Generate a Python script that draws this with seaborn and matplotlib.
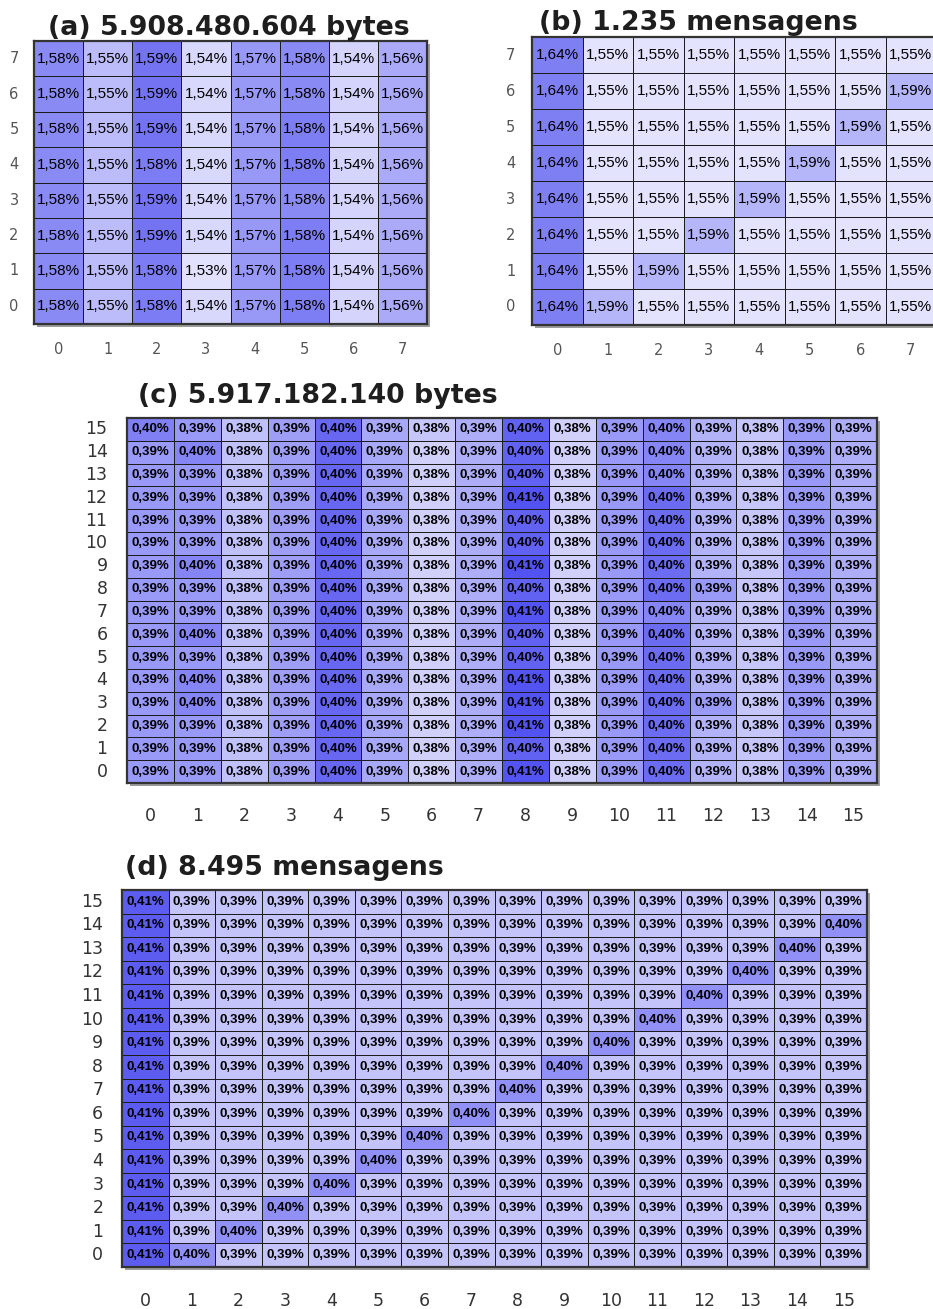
import numpy as np
import pandas as pd
import matplotlib
matplotlib.use("Agg")
import matplotlib.pyplot as plt
import seaborn as sns
from matplotlib.colors import LinearSegmentedColormap
from matplotlib.patches import Rectangle
from matplotlib import font_manager as fm

sns.set_style("white")
plt.rcParams["font.family"] = ["DejaVu Sans"]

W, H = 933, 1309

# ---------------------------------------------------------------------------
# Data: share (%) of each cell; rows are listed from the top row (highest
# index) down to row 0.
# ---------------------------------------------------------------------------
title_a = "(a) 5.908.480.604 bytes"
title_b = "(b) 1.235 mensagens"
title_c = "(c) 5.917.182.140 bytes"
title_d = "(d) 8.495 mensagens"

share_a = [
    [1.577, 1.552, 1.588, 1.538, 1.570, 1.577, 1.540, 1.561],  # 7
    [1.577, 1.552, 1.588, 1.538, 1.570, 1.577, 1.540, 1.561],  # 6
    [1.577, 1.552, 1.588, 1.538, 1.570, 1.583, 1.540, 1.561],  # 5
    [1.577, 1.552, 1.584, 1.538, 1.570, 1.583, 1.540, 1.561],  # 4
    [1.577, 1.552, 1.588, 1.538, 1.570, 1.577, 1.540, 1.561],  # 3
    [1.577, 1.552, 1.588, 1.538, 1.570, 1.583, 1.540, 1.561],  # 2
    [1.577, 1.552, 1.584, 1.534, 1.570, 1.583, 1.540, 1.561],  # 1
    [1.577, 1.552, 1.584, 1.538, 1.570, 1.583, 1.540, 1.561],  # 0
]

share_b = [
    [1.642, 1.551, 1.551, 1.551, 1.551, 1.551, 1.551, 1.551],  # 7
    [1.642, 1.551, 1.551, 1.551, 1.551, 1.551, 1.551, 1.592],  # 6
    [1.642, 1.551, 1.551, 1.551, 1.551, 1.551, 1.592, 1.551],  # 5
    [1.642, 1.551, 1.551, 1.551, 1.551, 1.592, 1.551, 1.551],  # 4
    [1.642, 1.551, 1.551, 1.551, 1.592, 1.551, 1.551, 1.551],  # 3
    [1.642, 1.551, 1.551, 1.592, 1.551, 1.551, 1.551, 1.551],  # 2
    [1.642, 1.551, 1.592, 1.551, 1.551, 1.551, 1.551, 1.551],  # 1
    [1.642, 1.592, 1.551, 1.551, 1.551, 1.551, 1.551, 1.551],  # 0
]

share_c = [
    [0.397, 0.392, 0.384, 0.391, 0.402, 0.389, 0.383, 0.388, 0.403, 0.381, 0.392, 0.396, 0.387, 0.383, 0.392, 0.388],  # 15
    [0.392, 0.396, 0.384, 0.391, 0.402, 0.389, 0.381, 0.388, 0.403, 0.381, 0.392, 0.396, 0.387, 0.383, 0.392, 0.388],  # 14
    [0.392, 0.392, 0.384, 0.391, 0.402, 0.389, 0.381, 0.388, 0.403, 0.381, 0.392, 0.396, 0.387, 0.383, 0.392, 0.388],  # 13
    [0.392, 0.392, 0.384, 0.391, 0.402, 0.389, 0.381, 0.388, 0.406, 0.381, 0.392, 0.401, 0.387, 0.383, 0.392, 0.388],  # 12
    [0.392, 0.392, 0.384, 0.391, 0.402, 0.389, 0.381, 0.388, 0.403, 0.381, 0.392, 0.401, 0.387, 0.383, 0.392, 0.388],  # 11
    [0.392, 0.392, 0.384, 0.391, 0.402, 0.389, 0.381, 0.388, 0.403, 0.381, 0.392, 0.401, 0.387, 0.383, 0.392, 0.388],  # 10
    [0.392, 0.396, 0.384, 0.391, 0.402, 0.389, 0.381, 0.388, 0.406, 0.381, 0.392, 0.401, 0.387, 0.383, 0.392, 0.388],  # 9
    [0.392, 0.392, 0.384, 0.391, 0.402, 0.389, 0.381, 0.388, 0.403, 0.381, 0.392, 0.401, 0.392, 0.383, 0.392, 0.388],  # 8
    [0.392, 0.392, 0.384, 0.391, 0.402, 0.389, 0.381, 0.388, 0.406, 0.381, 0.392, 0.396, 0.387, 0.383, 0.392, 0.388],  # 7
    [0.392, 0.396, 0.384, 0.391, 0.402, 0.389, 0.381, 0.388, 0.403, 0.381, 0.392, 0.401, 0.387, 0.383, 0.392, 0.388],  # 6
    [0.392, 0.392, 0.384, 0.391, 0.402, 0.389, 0.381, 0.388, 0.403, 0.381, 0.392, 0.401, 0.387, 0.383, 0.392, 0.388],  # 5
    [0.392, 0.396, 0.384, 0.391, 0.402, 0.389, 0.381, 0.388, 0.406, 0.381, 0.392, 0.401, 0.387, 0.383, 0.392, 0.388],  # 4
    [0.392, 0.396, 0.384, 0.391, 0.402, 0.389, 0.381, 0.388, 0.406, 0.381, 0.392, 0.401, 0.392, 0.383, 0.392, 0.388],  # 3
    [0.392, 0.392, 0.384, 0.391, 0.402, 0.389, 0.381, 0.388, 0.406, 0.381, 0.392, 0.401, 0.387, 0.383, 0.392, 0.388],  # 2
    [0.392, 0.392, 0.384, 0.391, 0.402, 0.389, 0.381, 0.388, 0.403, 0.381, 0.392, 0.401, 0.387, 0.383, 0.392, 0.388],  # 1
    [0.392, 0.392, 0.384, 0.391, 0.402, 0.389, 0.381, 0.388, 0.406, 0.381, 0.392, 0.401, 0.387, 0.383, 0.392, 0.388],  # 0
]

share_d = [
    [0.41, 0.39, 0.39, 0.39, 0.39, 0.39, 0.39, 0.39, 0.39, 0.39, 0.39, 0.39, 0.39, 0.39, 0.39, 0.39],  # 15
    [0.41, 0.39, 0.39, 0.39, 0.39, 0.39, 0.39, 0.39, 0.39, 0.39, 0.39, 0.39, 0.39, 0.39, 0.39, 0.40],  # 14
    [0.41, 0.39, 0.39, 0.39, 0.39, 0.39, 0.39, 0.39, 0.39, 0.39, 0.39, 0.39, 0.39, 0.39, 0.40, 0.39],  # 13
    [0.41, 0.39, 0.39, 0.39, 0.39, 0.39, 0.39, 0.39, 0.39, 0.39, 0.39, 0.39, 0.39, 0.40, 0.39, 0.39],  # 12
    [0.41, 0.39, 0.39, 0.39, 0.39, 0.39, 0.39, 0.39, 0.39, 0.39, 0.39, 0.39, 0.40, 0.39, 0.39, 0.39],  # 11
    [0.41, 0.39, 0.39, 0.39, 0.39, 0.39, 0.39, 0.39, 0.39, 0.39, 0.39, 0.40, 0.39, 0.39, 0.39, 0.39],  # 10
    [0.41, 0.39, 0.39, 0.39, 0.39, 0.39, 0.39, 0.39, 0.39, 0.39, 0.40, 0.39, 0.39, 0.39, 0.39, 0.39],  # 9
    [0.41, 0.39, 0.39, 0.39, 0.39, 0.39, 0.39, 0.39, 0.39, 0.40, 0.39, 0.39, 0.39, 0.39, 0.39, 0.39],  # 8
    [0.41, 0.39, 0.39, 0.39, 0.39, 0.39, 0.39, 0.39, 0.40, 0.39, 0.39, 0.39, 0.39, 0.39, 0.39, 0.39],  # 7
    [0.41, 0.39, 0.39, 0.39, 0.39, 0.39, 0.39, 0.40, 0.39, 0.39, 0.39, 0.39, 0.39, 0.39, 0.39, 0.39],  # 6
    [0.41, 0.39, 0.39, 0.39, 0.39, 0.39, 0.40, 0.39, 0.39, 0.39, 0.39, 0.39, 0.39, 0.39, 0.39, 0.39],  # 5
    [0.41, 0.39, 0.39, 0.39, 0.39, 0.40, 0.39, 0.39, 0.39, 0.39, 0.39, 0.39, 0.39, 0.39, 0.39, 0.39],  # 4
    [0.41, 0.39, 0.39, 0.39, 0.40, 0.39, 0.39, 0.39, 0.39, 0.39, 0.39, 0.39, 0.39, 0.39, 0.39, 0.39],  # 3
    [0.41, 0.39, 0.39, 0.40, 0.39, 0.39, 0.39, 0.39, 0.39, 0.39, 0.39, 0.39, 0.39, 0.39, 0.39, 0.39],  # 2
    [0.41, 0.39, 0.40, 0.39, 0.39, 0.39, 0.39, 0.39, 0.39, 0.39, 0.39, 0.39, 0.39, 0.39, 0.39, 0.39],  # 1
    [0.41, 0.40, 0.39, 0.39, 0.39, 0.39, 0.39, 0.39, 0.39, 0.39, 0.39, 0.39, 0.39, 0.39, 0.39, 0.39],  # 0
]

# ---------------------------------------------------------------------------
# Styling
# ---------------------------------------------------------------------------
cmap = LinearSegmentedColormap.from_list("lavender_blue", ["#f0f0fe", "#4c4cf0"])

installed = {f.name for f in fm.fontManager.ttflist}
if "Liberation Sans Narrow" in installed:
    CELL_FONT, NARROW = "Liberation Sans Narrow", True
elif "Liberation Sans" in installed:
    CELL_FONT, NARROW = "Liberation Sans", False
else:
    CELL_FONT, NARROW = "DejaVu Sans", False

fig = plt.figure(figsize=(W / 100, H / 100), dpi=100)
fig.patch.set_facecolor("white")


def panel(rows, box, vmin, vmax, ann_size, ann_weight, tick_size, tick_color,
          xpad, ypad, title, title_xy):
    left, top, right, bottom = box
    ax = fig.add_axes([left / W, 1 - bottom / H, (right - left) / W, (bottom - top) / H])

    # soft drop shadow behind the grid
    fig.patches.append(Rectangle(((left + 3) / W, 1 - (bottom + 3) / H),
                                 (right - left) / W, (bottom - top) / H,
                                 transform=fig.transFigure, facecolor="#9c9c9c",
                                 edgecolor="none", zorder=-1))

    n_rows, n_cols = len(rows), len(rows[0])
    df = pd.DataFrame(rows, index=list(range(n_rows - 1, -1, -1)),
                      columns=list(range(n_cols)))
    labels = df.map(lambda v: f"{v:.2f}".replace(".", ",") + "%")

    sns.heatmap(df, ax=ax, cmap=cmap, vmin=vmin, vmax=vmax,
                annot=labels.values, fmt="", cbar=False,
                linewidths=0.7, linecolor="#1c1c1c",
                annot_kws=dict(fontsize=ann_size, fontweight=ann_weight,
                               family=CELL_FONT, color="black"))

    for s in ax.spines.values():
        s.set_visible(True)
        s.set_linewidth(1.6)
        s.set_edgecolor("#333333")

    ax.tick_params(axis="both", length=0, labelsize=tick_size, labelcolor=tick_color)
    ax.tick_params(axis="x", pad=xpad)
    ax.tick_params(axis="y", pad=ypad)
    ax.set_yticklabels(ax.get_yticklabels(), rotation=0)
    ax.set_xticklabels(ax.get_xticklabels(), rotation=0)
    ax.set_xlabel("")
    ax.set_ylabel("")

    fig.text(title_xy[0] / W, 1 - title_xy[1] / H, title, fontsize=19.3,
             fontweight="bold", color="#1e1e1e", ha="left", va="baseline")
    return ax


big_ann = 13.0 if NARROW else 11.0
small_ann = 11.0 if NARROW else 9.5

panel(share_a, (34, 41, 427, 324), 1.526, 1.608, big_ann, "normal", 10.5, "#555555",
      13, 11, title_a, (48, 35))
panel(share_b, (532, 37, 936, 325), 1.539, 1.688, big_ann, "normal", 10.5, "#555555",
      13, 12, title_b, (539, 30))
panel(share_c, (127, 418, 877, 783), 0.3745, 0.4075, small_ann, "bold", 12.5, "#333333",
      17, 14, title_c, (138, 403))
panel(share_d, (122, 890, 867, 1267), 0.3816, 0.4131, small_ann, "bold", 12.5, "#333333",
      18, 13.5, title_d, (125, 875))

fig.savefig("out.png", dpi=100, facecolor="white")
